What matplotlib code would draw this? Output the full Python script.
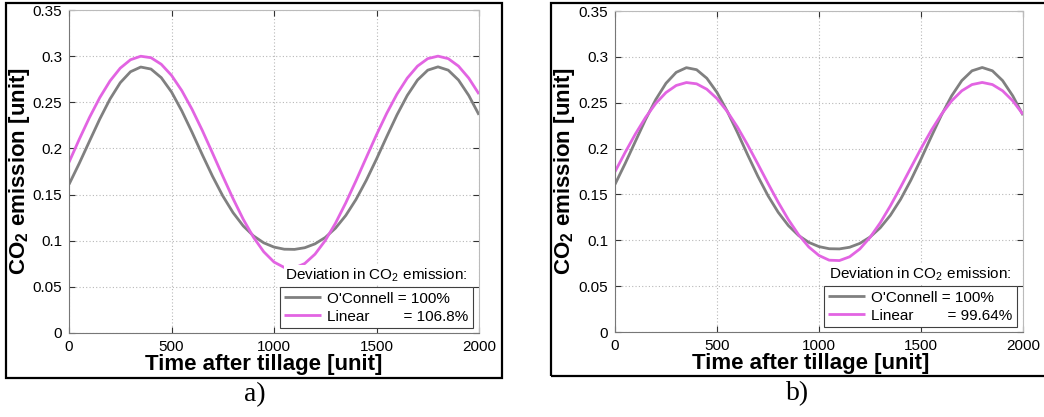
import numpy as np
import matplotlib.pyplot as plt
from matplotlib.patches import Rectangle

plt.rcParams['font.family'] = ['Liberation Sans', 'DejaVu Sans']
plt.rcParams['mathtext.fontset'] = 'custom'
plt.rcParams['mathtext.rm'] = 'Liberation Sans'
plt.rcParams['mathtext.bf'] = 'Liberation Sans:bold'

# time after tillage, sampled every 50 units
time = np.arange(0, 2001, 50)

# O'Connell model (same in both panels)
oconnell = [0.1610, 0.1838, 0.2079, 0.2318, 0.2535, 0.2712, 0.2831, 0.2882,
            0.2860, 0.2767, 0.2612, 0.2408, 0.2176, 0.1933, 0.1699, 0.1486,
            0.1305, 0.1160, 0.1052, 0.0977, 0.0931, 0.0908, 0.0906, 0.0924,
            0.0966, 0.1035, 0.1136, 0.1273, 0.1447, 0.1654, 0.1885, 0.2128,
            0.2364, 0.2574, 0.2741, 0.2848, 0.2884, 0.2848, 0.2741, 0.2574,
            0.2364]

# linear model, panel a
linear_a = [0.1850, 0.2099, 0.2336, 0.2550, 0.2731, 0.2870, 0.2961, 0.2999,
            0.2983, 0.2912, 0.2792, 0.2627, 0.2425, 0.2196, 0.1950, 0.1700,
            0.1457, 0.1232, 0.1037, 0.0880, 0.0769, 0.0710, 0.0704, 0.0753,
            0.0854, 0.1002, 0.1190, 0.1410, 0.1650, 0.1900, 0.2148, 0.2381,
            0.2589, 0.2762, 0.2892, 0.2973, 0.3000, 0.2973, 0.2892, 0.2762,
            0.2589]

# linear model, panel b
linear_b = [0.1748, 0.1959, 0.2159, 0.2340, 0.2493, 0.2611, 0.2688, 0.2720,
            0.2706, 0.2647, 0.2545, 0.2405, 0.2235, 0.2041, 0.1833, 0.1621,
            0.1415, 0.1225, 0.1060, 0.0927, 0.0834, 0.0783, 0.0779, 0.0820,
            0.0905, 0.1031, 0.1190, 0.1376, 0.1579, 0.1790, 0.2000, 0.2197,
            0.2373, 0.2520, 0.2630, 0.2698, 0.2721, 0.2698, 0.2630, 0.2520,
            0.2373]

dev_oconnell = "100%"
dev_linear_a = "106.8%"
dev_linear_b = "99.64%"

xticks = [0, 500, 1000, 1500, 2000]
yticks = [0, 0.05, 0.1, 0.15, 0.2, 0.25, 0.3, 0.35]

GRAY = '#808080'
MAGENTA = '#e264e2'


def draw_panel(ax, linear, dev_lin, ylab_x, xlab_x):
    for y, c, lab in [(oconnell, GRAY, "O'Connell = " + dev_oconnell),
                      (linear, MAGENTA, "Linear        = " + dev_lin)]:
        ax.plot(time, y, color=c, lw=2.0, label=lab,
                solid_joinstyle='round', solid_capstyle='butt')
    ax.set_xlim(0, 2000)
    ax.set_ylim(0, 0.35)
    ax.set_xticks(xticks)
    ax.set_yticks(yticks)
    ax.set_yticklabels(['%g' % v for v in yticks])
    ax.grid(True, color='#b8b8b8', lw=0.8, linestyle=(0, (1, 2)))
    ax.tick_params(direction='in', length=4, width=0.8, color='#333333',
                   top=True, right=True, labelsize=11, pad=5)
    for s in ['left', 'bottom']:
        ax.spines[s].set_color('#777777')
    for s in ['top', 'right']:
        ax.spines[s].set_color('#bbbbbb')
    ax.set_xlabel('Time after tillage [unit]', fontsize=16, fontweight='bold')
    ax.set_ylabel(r'CO$_\mathbf{2}$ emission [unit]', fontsize=16,
                  fontweight='bold')
    ax.xaxis.set_label_coords(xlab_x, -0.064)
    ax.yaxis.set_label_coords(ylab_x, 0.5)
    leg = ax.legend(loc='lower right', bbox_to_anchor=(0.985, 0.015),
                    borderaxespad=0, fontsize=11, handlelength=2.4,
                    handletextpad=0.4, labelspacing=0.25, borderpad=0.3,
                    fancybox=False, framealpha=1)
    leg.get_frame().set_edgecolor('#404040')
    leg.get_frame().set_linewidth(0.8)
    ax.text(0.973, 0.152, r'Deviation in CO$_2$ emission:', fontsize=11,
            ha='right', va='bottom', transform=ax.transAxes,
            bbox=dict(facecolor='white', edgecolor='none', pad=1))


fig = plt.figure(figsize=(10.44, 4.17), dpi=100)

ax_a = fig.add_axes([69 / 1044, 84 / 417, 410 / 1044, 323 / 417])
ax_b = fig.add_axes([615 / 1044, 85 / 417, 408 / 1044, 321 / 417])
draw_panel(ax_a, linear_a, dev_linear_a, -0.09, 0.476)
draw_panel(ax_b, linear_b, dev_linear_b, -0.093, 0.48)

# black frames round each panel
fig.add_artist(Rectangle((6 / 1044, 39 / 417), 496 / 1044, 375 / 417,
                         transform=fig.transFigure, fill=False,
                         edgecolor='black', lw=1.6))
fig.add_artist(Rectangle((551 / 1044, 41 / 417), 520 / 1044, 373 / 417,
                         transform=fig.transFigure, fill=False,
                         edgecolor='black', lw=1.6))

fig.text(255 / 1044, 1 - 395 / 417, 'a)', fontsize=20, family='Liberation Serif',
         ha='center', va='center')
fig.text(798 / 1044, 1 - 394 / 417, 'b)', fontsize=20, family='Liberation Serif',
         ha='center', va='center')

fig.savefig('out.png', dpi=100)
